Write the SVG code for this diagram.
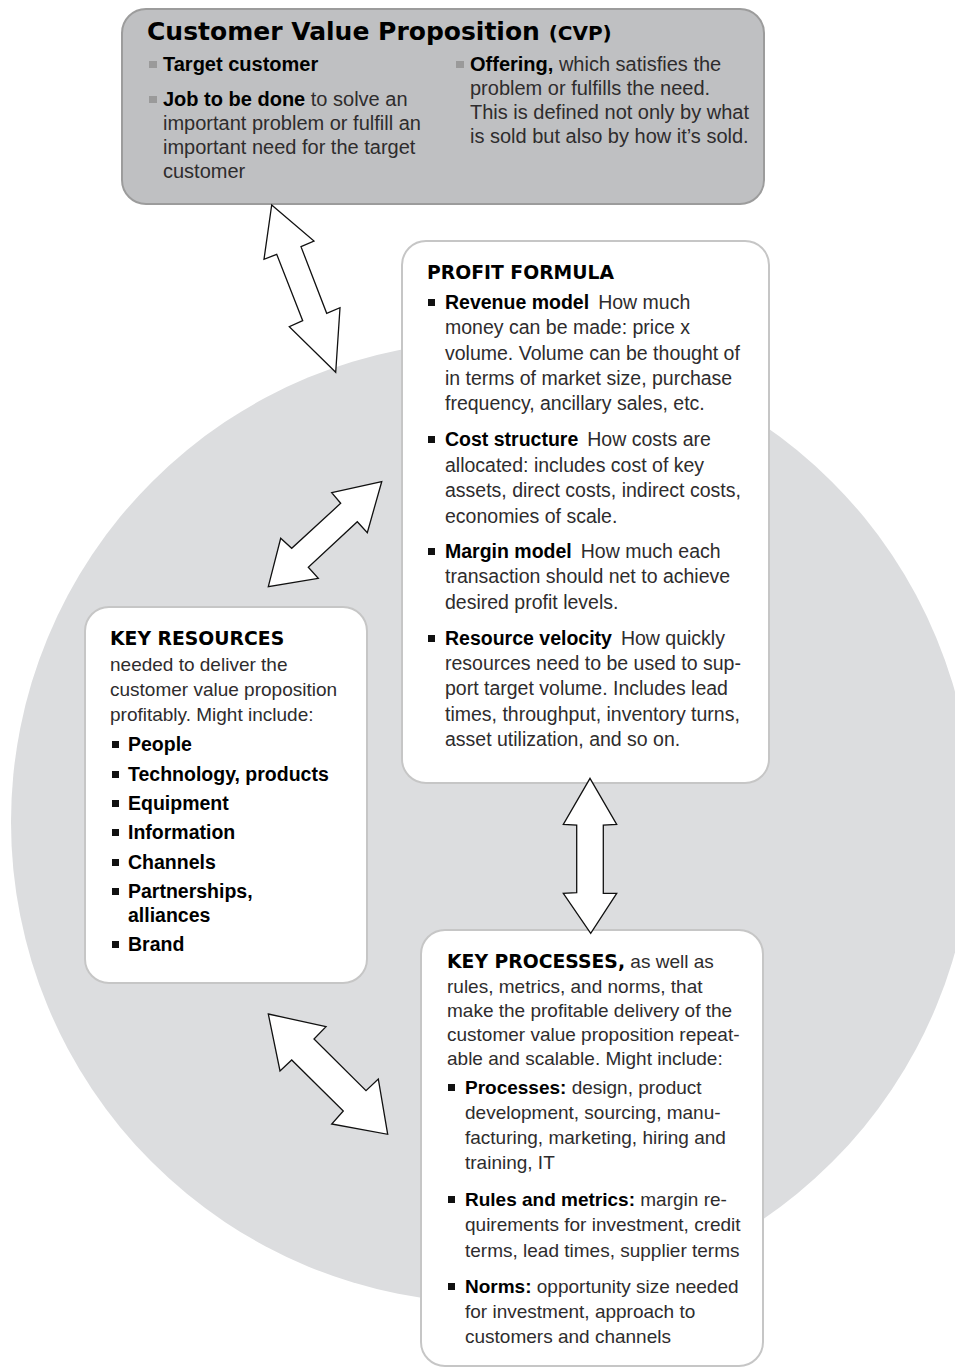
<svg xmlns="http://www.w3.org/2000/svg" width="955" height="1368" viewBox="0 0 955 1368">
<style>
text{font-family:"Liberation Sans",Arial,Helvetica,sans-serif;fill:#2e2c2d}
.bd{font-size:19px}
.pf{font-size:19.5px}
.cv{font-size:20px}
.b{font-weight:bold;fill:#000}
.h{font-family:"DejaVu Sans","Liberation Sans",sans-serif;font-weight:bold;font-size:18.8px;fill:#000}
.title{font-family:"DejaVu Sans","Liberation Sans",sans-serif;font-weight:bold;font-size:25px;fill:#000}
.wbox{fill:#fff;stroke:#c6c6c6;stroke-width:2}
.gbox{fill:#bfc0c2;stroke:#9c9c9c;stroke-width:2}
.sq{fill:#111}
.gsq{fill:#9a9a9a}
.arrow{fill:#fff;stroke:#111;stroke-width:1.3;stroke-linejoin:miter}
</style>
<rect width="955" height="1368" fill="#fff"/>
<circle id="circle" cx="492" cy="822" r="481" fill="#dcdddf"/>

<g id="cvp">
<rect class="gbox" x="122" y="9" width="642" height="195" rx="24"/>
<text class="title" x="147" y="40">Customer Value Proposition <tspan font-size="20">(CVP)</tspan></text>
<rect class="gsq" x="149" y="61" width="8" height="7"/>
<rect class="gsq" x="149" y="96" width="8" height="7"/>
<rect class="gsq" x="456" y="61" width="8" height="7"/>
<text class="cv" x="163" y="71"><tspan class="b">Target customer</tspan></text>
<text class="cv" x="163" y="106"><tspan class="b">Job to be done</tspan> to solve an</text>
<text class="cv" x="163" y="130">important problem or fulfill an</text>
<text class="cv" x="163" y="154">important need for the target</text>
<text class="cv" x="163" y="178">customer</text>
<text class="cv" x="470" y="71"><tspan class="b">Offering,</tspan> which satisfies the</text>
<text class="cv" x="470" y="95">problem or fulfills the need.</text>
<text class="cv" x="470" y="119">This is defined not only by what</text>
<text class="cv" x="470" y="143">is sold but also by how it’s sold.</text>
</g>

<g id="profit-formula">
<rect class="wbox" x="402" y="241" width="367" height="542" rx="24"/>
<text class="h" x="427" y="279">PROFIT FORMULA</text>
<rect class="sq" x="428" y="299" width="7" height="7"/>
<rect class="sq" x="428" y="436" width="7" height="7"/>
<rect class="sq" x="428" y="548" width="7" height="7"/>
<rect class="sq" x="428" y="635" width="7" height="7"/>
<text class="pf" x="445" y="309"><tspan class="b">Revenue model</tspan><tspan dx="9">How much</tspan></text>
<text class="pf" x="445" y="334">money can be made: price x</text>
<text class="pf" x="445" y="360">volume. Volume can be thought of</text>
<text class="pf" x="445" y="385">in terms of market size, purchase</text>
<text class="pf" x="445" y="410">frequency, ancillary sales, etc.</text>
<text class="pf" x="445" y="446"><tspan class="b">Cost structure</tspan><tspan dx="9">How costs are</tspan></text>
<text class="pf" x="445" y="472">allocated: includes cost of key</text>
<text class="pf" x="445" y="497">assets, direct costs, indirect costs,</text>
<text class="pf" x="445" y="523">economies of scale.</text>
<text class="pf" x="445" y="558"><tspan class="b">Margin model</tspan><tspan dx="9">How much each</tspan></text>
<text class="pf" x="445" y="583">transaction should net to achieve</text>
<text class="pf" x="445" y="609">desired profit levels.</text>
<text class="pf" x="445" y="645"><tspan class="b">Resource velocity</tspan><tspan dx="9">How quickly</tspan></text>
<text class="pf" x="445" y="670">resources need to be used to sup-</text>
<text class="pf" x="445" y="695">port target volume. Includes lead</text>
<text class="pf" x="445" y="721">times, throughput, inventory turns,</text>
<text class="pf" x="445" y="746">asset utilization, and so on.</text>
</g>

<g id="key-resources">
<rect class="wbox" x="85" y="607" width="282" height="376" rx="24"/>
<text class="h" x="110" y="645">KEY RESOURCES</text>
<text class="bd" x="110" y="671">needed to deliver the</text>
<text class="bd" x="110" y="696">customer value proposition</text>
<text class="bd" x="110" y="721">profitably. Might include:</text>
<rect class="sq" x="112" y="741" width="7" height="7"/>
<rect class="sq" x="112" y="771" width="7" height="7"/>
<rect class="sq" x="112" y="800" width="7" height="7"/>
<rect class="sq" x="112" y="829" width="7" height="7"/>
<rect class="sq" x="112" y="859" width="7" height="7"/>
<rect class="sq" x="112" y="888" width="7" height="7"/>
<rect class="sq" x="112" y="941" width="7" height="7"/>
<text class="b" font-size="19.5" x="128" y="751">People</text>
<text class="b" font-size="19.5" x="128" y="781">Technology, products</text>
<text class="b" font-size="19.5" x="128" y="810">Equipment</text>
<text class="b" font-size="19.5" x="128" y="839">Information</text>
<text class="b" font-size="19.5" x="128" y="869">Channels</text>
<text class="b" font-size="19.5" x="128" y="898">Partnerships,</text>
<text class="b" font-size="19.5" x="128" y="922">alliances</text>
<text class="b" font-size="19.5" x="128" y="951">Brand</text>
</g>

<g id="key-processes">
<rect class="wbox" x="421" y="930" width="342" height="436" rx="24"/>
<text class="bd" x="447" y="968"><tspan class="h">KEY PROCESSES,</tspan> as well as</text>
<text class="bd" x="447" y="993">rules, metrics, and norms, that</text>
<text class="bd" x="447" y="1017">make the profitable delivery of the</text>
<text class="bd" x="447" y="1041">customer value proposition repeat-</text>
<text class="bd" x="447" y="1065">able and scalable. Might include:</text>
<rect class="sq" x="448" y="1084" width="7" height="7"/>
<rect class="sq" x="448" y="1196" width="7" height="7"/>
<rect class="sq" x="448" y="1283" width="7" height="7"/>
<text class="bd" x="465" y="1094"><tspan class="b">Processes:</tspan> design, product</text>
<text class="bd" x="465" y="1119">development, sourcing, manu-</text>
<text class="bd" x="465" y="1144">facturing, marketing, hiring and</text>
<text class="bd" x="465" y="1169">training, IT</text>
<text class="bd" x="465" y="1206"><tspan class="b">Rules and metrics:</tspan> margin re-</text>
<text class="bd" x="465" y="1231">quirements for investment, credit</text>
<text class="bd" x="465" y="1257">terms, lead times, supplier terms</text>
<text class="bd" x="465" y="1293"><tspan class="b">Norms:</tspan> opportunity size needed</text>
<text class="bd" x="465" y="1318">for investment, approach to</text>
<text class="bd" x="465" y="1343">customers and channels</text>
</g>

<g id="connectors">
<polygon id="arrow-cvp-circle" class="arrow" points="271.7,205 314,241 301,246.7 326.7,313.3 340,307.7 335.7,372.3 289.3,326.7 302.7,320.7 276.7,254.3 264,259.3"/>
<polygon id="arrow-profit-resources" class="arrow" points="381.7,481.7 367.3,532.7 357.3,521.7 308.3,567.3 318.3,578.3 268.3,586.7 280.7,538.3 291.7,548.3 340.7,503.3 331.7,492.7"/>
<polygon id="arrow-profit-processes" class="arrow" points="590,778.3 616.7,824.3 603.3,825 603.3,893.3 616.7,893.3 590.7,933.3 563.3,893.3 576.7,892.7 576.7,825 563.3,824.3"/>
<polygon id="arrow-resources-processes" class="arrow" points="268.3,1014 326,1026.7 314,1039 366,1090.7 378.3,1079 387.7,1134.3 331.7,1124 343.3,1111 291.7,1060 280,1071"/>
</g>
</svg>
